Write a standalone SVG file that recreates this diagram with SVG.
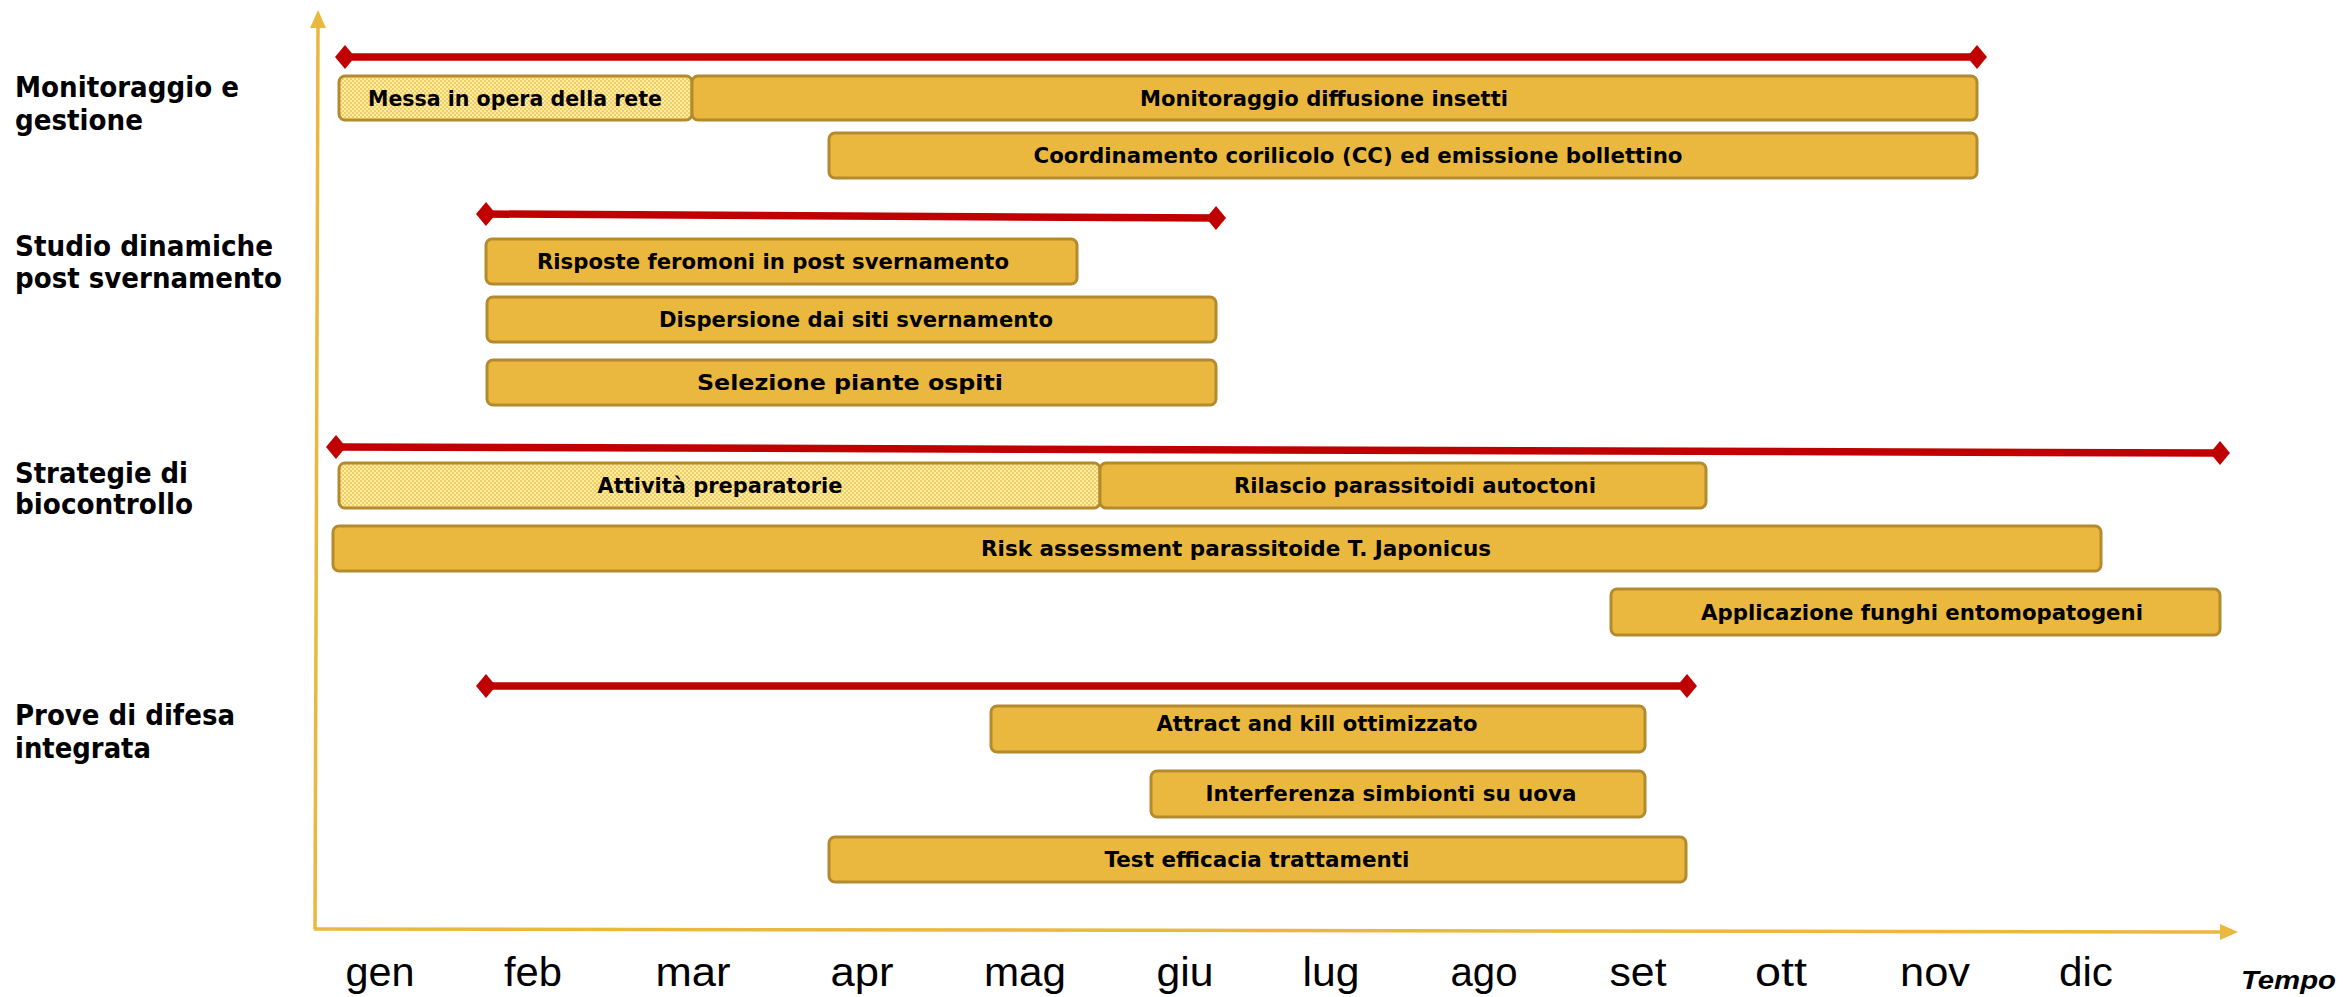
<svg xmlns="http://www.w3.org/2000/svg" width="2343" height="997" viewBox="0 0 2343 997">
  <style>
    .bar { fill: #EBB83F; stroke: #B38A2E; stroke-width: 3; }
    .barp { fill: url(#dots); stroke: #B38A2E; stroke-width: 3; }
    .bl { font-family: "DejaVu Sans", Verdana, sans-serif; font-weight: bold; font-size: 22px; fill: #000; text-anchor: middle; }
    .cat { font-family: "DejaVu Sans", Verdana, sans-serif; font-weight: bold; font-size: 27.5px; fill: #000; }
    .mon { font-family: "Liberation Sans", Arial, sans-serif; font-size: 40px; fill: #000; text-anchor: middle; }
    .tempo { font-family: "Liberation Sans", Arial, sans-serif; font-weight: bold; font-style: italic; font-size: 25px; fill: #000; }
    .red { stroke: #C00000; stroke-width: 7.5; fill: none; marker-start: url(#dia); marker-end: url(#dia); }
    .axis { stroke: #EBB83F; stroke-width: 3.5; fill: none; marker-end: url(#arr); }
  </style>
  <defs>
    <pattern id="dots" width="4" height="4" patternUnits="userSpaceOnUse">
      <rect width="4" height="4" fill="#FFEDA6"/>
      <rect x="0" y="0" width="2" height="2" fill="#F2CD62"/>
      <rect x="2" y="2" width="2" height="2" fill="#F2CD62"/>
    </pattern>
    <marker id="dia" markerUnits="userSpaceOnUse" markerWidth="22" markerHeight="26" refX="11" refY="13" orient="auto" viewBox="0 0 22 26">
      <path d="M1,13 L11,1 L21,13 L11,25 Z" fill="#C00000"/>
    </marker>
    <marker id="arr" markerUnits="userSpaceOnUse" markerWidth="18" markerHeight="16" refX="2" refY="8" orient="auto" viewBox="0 0 18 16">
      <path d="M0,0 L18,8 L0,16 Z" fill="#EBB83F"/>
    </marker>
  </defs>

  <g id="axes">
    <line class="axis" x1="315" y1="929" x2="318" y2="26"/>
    <line class="axis" x1="314" y1="929" x2="2222" y2="932"/>
  </g>

  <g id="categories">
    <g id="cat-monitoraggio">
      <text class="cat" x="15" y="97" textLength="224" lengthAdjust="spacingAndGlyphs">Monitoraggio e</text>
      <text class="cat" x="15" y="130" textLength="128" lengthAdjust="spacingAndGlyphs">gestione</text>
    </g>
    <g id="cat-studio">
      <text class="cat" x="15" y="256" textLength="258" lengthAdjust="spacingAndGlyphs">Studio dinamiche</text>
      <text class="cat" x="15" y="288" textLength="267" lengthAdjust="spacingAndGlyphs">post svernamento</text>
    </g>
    <g id="cat-strategie">
      <text class="cat" x="15" y="483" textLength="173" lengthAdjust="spacingAndGlyphs">Strategie di</text>
      <text class="cat" x="15" y="514" textLength="178" lengthAdjust="spacingAndGlyphs">biocontrollo</text>
    </g>
    <g id="cat-prove">
      <text class="cat" x="15" y="725" textLength="220" lengthAdjust="spacingAndGlyphs">Prove di difesa</text>
      <text class="cat" x="15" y="758" textLength="136" lengthAdjust="spacingAndGlyphs">integrata</text>
    </g>
  </g>

  <g id="connectors">
    <line class="red" x1="345" y1="57" x2="1977" y2="57"/>
    <line class="red" x1="486" y1="214" x2="1216" y2="218"/>
    <line class="red" x1="336" y1="447" x2="2220" y2="453"/>
    <line class="red" x1="486" y1="686" x2="1687" y2="686"/>
  </g>

  <g id="bar-messa">
    <rect class="barp" x="339" y="76" width="353" height="44" rx="6"/>
    <text class="bl" x="515" y="106" textLength="294" lengthAdjust="spacingAndGlyphs">Messa in opera della rete</text>
  </g>
  <g id="bar-monitoraggio">
    <rect class="bar" x="692" y="76" width="1285" height="44" rx="6"/>
    <text class="bl" x="1324" y="106" textLength="368" lengthAdjust="spacingAndGlyphs">Monitoraggio diffusione insetti</text>
  </g>
  <g id="bar-coordinamento">
    <rect class="bar" x="829" y="133" width="1148" height="45" rx="6"/>
    <text class="bl" x="1358" y="163" textLength="649" lengthAdjust="spacingAndGlyphs">Coordinamento corilicolo (CC) ed emissione bollettino</text>
  </g>
  <g id="bar-risposte">
    <rect class="bar" x="486" y="239" width="591" height="45" rx="6"/>
    <text class="bl" x="773" y="269" textLength="472" lengthAdjust="spacingAndGlyphs">Risposte feromoni in post svernamento</text>
  </g>
  <g id="bar-dispersione">
    <rect class="bar" x="487" y="297" width="729" height="45" rx="6"/>
    <text class="bl" x="856" y="327" textLength="394" lengthAdjust="spacingAndGlyphs">Dispersione dai siti svernamento</text>
  </g>
  <g id="bar-selezione">
    <rect class="bar" x="487" y="360" width="729" height="45" rx="6"/>
    <text class="bl" x="850" y="390" textLength="306" lengthAdjust="spacingAndGlyphs">Selezione piante ospiti</text>
  </g>
  <g id="bar-attivita">
    <rect class="barp" x="339" y="463" width="761" height="45" rx="6"/>
    <text class="bl" x="720" y="493" textLength="245" lengthAdjust="spacingAndGlyphs">Attività preparatorie</text>
  </g>
  <g id="bar-rilascio">
    <rect class="bar" x="1100" y="463" width="606" height="45" rx="6"/>
    <text class="bl" x="1415" y="493" textLength="362" lengthAdjust="spacingAndGlyphs">Rilascio parassitoidi autoctoni</text>
  </g>
  <g id="bar-risk">
    <rect class="bar" x="333" y="526" width="1768" height="45" rx="6"/>
    <text class="bl" x="1236" y="556" textLength="510" lengthAdjust="spacingAndGlyphs">Risk assessment parassitoide T. Japonicus</text>
  </g>
  <g id="bar-funghi">
    <rect class="bar" x="1611" y="589" width="609" height="46" rx="6"/>
    <text class="bl" x="1922" y="620" textLength="442" lengthAdjust="spacingAndGlyphs">Applicazione funghi entomopatogeni</text>
  </g>
  <g id="bar-attract">
    <rect class="bar" x="991" y="706" width="654" height="46" rx="6"/>
    <text class="bl" x="1317" y="731" textLength="321" lengthAdjust="spacingAndGlyphs">Attract and kill ottimizzato</text>
  </g>
  <g id="bar-interferenza">
    <rect class="bar" x="1151" y="771" width="494" height="46" rx="6"/>
    <text class="bl" x="1391" y="801" textLength="371" lengthAdjust="spacingAndGlyphs">Interferenza simbionti su uova</text>
  </g>
  <g id="bar-test">
    <rect class="bar" x="829" y="837" width="857" height="45" rx="6"/>
    <text class="bl" x="1257" y="867" textLength="305" lengthAdjust="spacingAndGlyphs">Test efficacia trattamenti</text>
  </g>

  <g id="months">
    <text class="mon" x="380" y="986" textLength="69" lengthAdjust="spacingAndGlyphs">gen</text>
    <text class="mon" x="533" y="986" textLength="58" lengthAdjust="spacingAndGlyphs">feb</text>
    <text class="mon" x="693" y="986" textLength="75" lengthAdjust="spacingAndGlyphs">mar</text>
    <text class="mon" x="862" y="986" textLength="63" lengthAdjust="spacingAndGlyphs">apr</text>
    <text class="mon" x="1025" y="986" textLength="82" lengthAdjust="spacingAndGlyphs">mag</text>
    <text class="mon" x="1185" y="986" textLength="57" lengthAdjust="spacingAndGlyphs">giu</text>
    <text class="mon" x="1331" y="986" textLength="57" lengthAdjust="spacingAndGlyphs">lug</text>
    <text class="mon" x="1484" y="986" textLength="67" lengthAdjust="spacingAndGlyphs">ago</text>
    <text class="mon" x="1638" y="986" textLength="57" lengthAdjust="spacingAndGlyphs">set</text>
    <text class="mon" x="1781" y="986" textLength="52" lengthAdjust="spacingAndGlyphs">ott</text>
    <text class="mon" x="1935" y="986" textLength="70" lengthAdjust="spacingAndGlyphs">nov</text>
    <text class="mon" x="2086" y="986" textLength="54" lengthAdjust="spacingAndGlyphs">dic</text>
    <text class="tempo" x="2241" y="989" textLength="95" lengthAdjust="spacingAndGlyphs">Tempo</text>
  </g>
</svg>
